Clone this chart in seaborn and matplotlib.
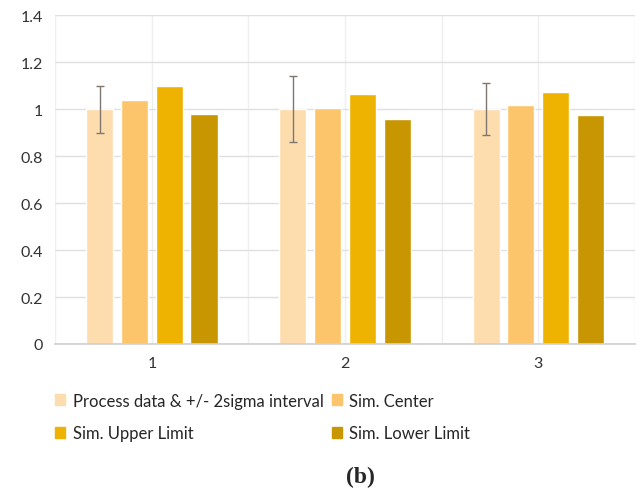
import pandas as pd
import numpy as np
import matplotlib
matplotlib.use('Agg')
import matplotlib.pyplot as plt
import seaborn as sns

sns.set_theme(style='white')
plt.rcParams['font.family'] = ['Lato', 'DejaVu Sans']

categories = ['1', '2', '3']
series_names = ['Process data & +/- 2sigma interval', 'Sim. Center',
                'Sim. Upper Limit', 'Sim. Lower Limit']
process_data = [1.0, 1.0, 1.0]
sim_center = [1.04, 1.005, 1.02]
sim_upper = [1.10, 1.065, 1.075]
sim_lower = [0.98, 0.96, 0.975]
process_err = [0.10, 0.14, 0.11]
colors = ['#FDDCAD', '#FCC56B', '#EEB200', '#C89600']

rows = []
for name, vals in zip(series_names, [process_data, sim_center, sim_upper, sim_lower]):
    for c, v in zip(categories, vals):
        rows.append({'Category': c, 'Series': name, 'Value': v})
df = pd.DataFrame(rows)

fig = plt.figure(figsize=(6.42, 4.89), dpi=100)
ax = fig.add_axes([0.086, 0.2945, 0.903, 0.672])

sns.barplot(data=df, x='Category', y='Value', hue='Series', palette=colors,
            saturation=1, width=0.72, gap=0.22, errorbar=None, ax=ax,
            legend=False, zorder=2)

# error bars on the process data bars
first = ax.containers[0]
xs = [p.get_x() + p.get_width() / 2 for p in first]
ax.errorbar(xs, process_data, yerr=process_err, fmt='none', ecolor='#7f7670',
            elinewidth=1, capsize=3, capthick=1, zorder=3)

ax.set_ylim(0, 1.4)
ax.set_xlim(-0.5, 2.5)
ax.set_yticks(np.arange(0, 1.41, 0.2))
ax.set_yticklabels(['0', '0.2', '0.4', '0.6', '0.8', '1', '1.2', '1.4'])
ax.set_xticks([-0.5, 0, 0.5, 1, 1.5, 2, 2.5])
ax.set_xticklabels(['', '1', '', '2', '', '3', ''])
ax.tick_params(axis='both', length=0, labelsize=11.5, colors='#333333', pad=9)
ax.grid(True, axis='y', color='#e0e0e0', linewidth=1, zorder=0)
ax.grid(True, axis='x', color='#efefef', linewidth=1, zorder=0)
ax.set_axisbelow(True)
ax.set_xlabel('')
ax.set_ylabel('')
for side in ['top', 'right', 'left']:
    ax.spines[side].set_visible(False)
ax.spines['bottom'].set_color('#d0d0d0')

handles = [plt.Rectangle((0, 0), 1, 1, color=c) for c in colors]
order = [0, 2, 1, 3]
fig.legend([handles[i] for i in order], [series_names[i] for i in order],
           ncol=2, loc='upper left', bbox_to_anchor=(0.086, 0.195),
           frameon=False, fontsize=12, handlelength=0.6, handleheight=0.6,
           handletextpad=0.45, columnspacing=0.5, labelspacing=1.0,
           borderaxespad=0, borderpad=0)

fig.text(0.562, 0.024, '(b)', ha='center', va='center', fontsize=17,
         fontweight='bold', family='Liberation Serif')

plt.savefig('out.png', dpi=100)
plt.close()
